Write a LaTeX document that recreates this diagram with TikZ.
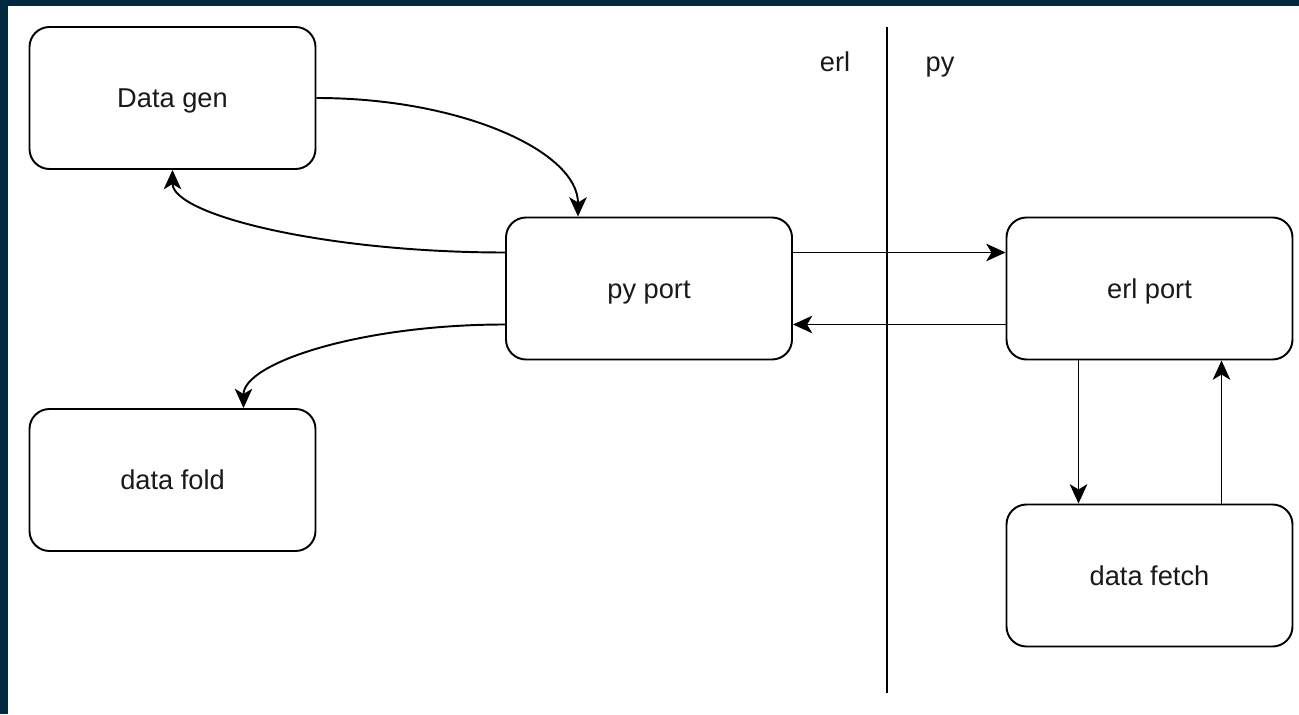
\documentclass[tikz,border=0pt]{standalone}
\usepackage{fontspec}
\setmainfont{Liberation Sans}
\usepackage{tikz}
\usetikzlibrary{arrows.meta}
\definecolor{framenavy}{RGB}{2,40,64}
\definecolor{inktext}{RGB}{25,25,25}
\tikzset{blockbox/.style={draw, line width=1.1pt, rounded corners=0.4cm, minimum width=5.72cm, minimum height=2.84cm, text height=11pt, text depth=0pt, text=inktext, font=\fontsize{15.5}{18}\selectfont}}
\tikzset{sidelabel/.style={text height=11pt, text depth=0pt, text=inktext, font=\fontsize{15.5}{18}\selectfont}}

\begin{document}
\begin{tikzpicture}[line width=1.1pt, >={Stealth[length=11pt,width=10pt,inset=3pt]}]
\useasboundingbox (0,0) rectangle (25.98,14.28);
\fill [color=framenavy] (0,14.16) rectangle (25.98,14.28);
\fill [color=framenavy] (0,0) rectangle (0.16,14.28);
% boxes
\node [blockbox] (datagen) at (3.45,12.32) {Data gen};
\node [blockbox] (pyport) at (12.98,8.51) {py port};
\node [blockbox] (erlport) at (22.99,8.51) {erl port};
\node [blockbox] (datafold) at (3.45,4.68) {data fold};
\node [blockbox] (datafetch) at (22.99,2.77) {data fetch};
% divider
\coordinate (divtop) at (17.74,13.74);
\coordinate (divbot) at (17.74,0.42);
\draw (divtop) -- (divbot);
\node [sidelabel] (erllabel) at (16.7,13.05) {erl};
\node [sidelabel] (pylabel) at (18.8,13.05) {py};
% connectors
\draw [->] (datagen.east) to[out=0,in=90,out distance=2.9cm,in distance=1.3cm] ([xshift=-1.42cm]pyport.north);
\draw [->] ([yshift=0.72cm]pyport.west) to[out=180,in=-90,out distance=3.6cm,in distance=0.9cm] (datagen.south);
\draw [->] ([yshift=-0.72cm]pyport.west) to[out=180,in=90,out distance=2.9cm,in distance=0.9cm] ([xshift=1.42cm]datafold.north);
\draw [->] ([yshift=0.72cm]pyport.east) -- ([yshift=0.72cm]erlport.west);
\draw [->] ([yshift=-0.72cm]erlport.west) -- ([yshift=-0.72cm]pyport.east);
\draw [->] ([xshift=-1.42cm]erlport.south) -- ([xshift=-1.42cm]datafetch.north);
\draw [->] ([xshift=1.44cm]datafetch.north) -- ([xshift=1.44cm]erlport.south);
\end{tikzpicture}
\end{document}
